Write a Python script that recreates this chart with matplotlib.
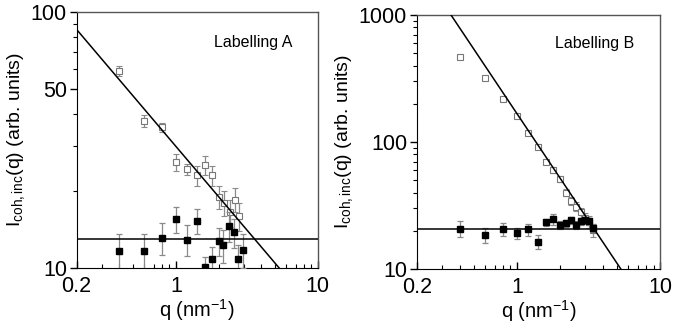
import numpy as np
import matplotlib
matplotlib.use("Agg")
import matplotlib.pyplot as plt
from matplotlib.ticker import FixedLocator, NullFormatter

plt.rcParams["font.family"] = ["Liberation Sans", "DejaVu Sans"]
plt.rcParams["mathtext.fontset"] = "custom"
plt.rcParams["mathtext.rm"] = "Liberation Sans"
plt.rcParams["mathtext.it"] = "Liberation Sans"

# ── Labelling A ─────────────────────────────────────────────────────────────
qa_open = [0.4, 0.6, 0.8, 1.0, 1.2, 1.4, 1.6, 1.8, 2.0, 2.2, 2.4, 2.6, 2.8]
Ia_open = [59, 37.5, 35.5, 26, 24.3, 23, 25.2, 23, 19, 18, 16.5, 18.5, 16]
ea_open = [2.5, 2.0, 1.5, 2.0, 1.2, 2.0, 2.2, 2.0, 2.0, 2.0, 2.0, 2.0, 2.0]
qa_fill = [0.4, 0.6, 0.8, 1.0, 1.2, 1.4, 1.6, 1.8, 2.0, 2.16, 2.37, 2.58, 2.76, 2.97]
Ia_fill = [11.6, 11.6, 13.1, 15.5, 12.9, 15.3, 10.05, 10.8, 12.7, 12.3, 14.6, 13.8, 10.8, 11.8]
ea_fill = [2.0, 2.0, 1.9, 1.8, 1.8, 1.7, 1.0, 1.3, 1.6, 1.8, 2.0, 1.8, 1.5, 1.8]
fit_a_q, fit_a_I = [0.2, 5.34], [85.5, 10]
flat_a = 13.0

# ── Labelling B ─────────────────────────────────────────────────────────────
qb_open = [0.4, 0.6, 0.8, 1.0, 1.2, 1.4, 1.6, 1.8, 2.0, 2.2, 2.4, 2.6, 2.8, 3.0, 3.2, 3.4]
Ib_open = [470, 321, 218, 160, 118, 92, 70, 60, 51, 40, 34.3, 31, 27.9, 25, 23.5, 20.3]
eb_open = [12, 10, 8, 6, 5, 4, 3, 3, 3, 2.5, 2.5, 2.5, 2.5, 2.5, 2.5, 2.5]
qb_fill = [0.4, 0.6, 0.8, 1.0, 1.2, 1.4, 1.6, 1.8, 2.0, 2.2, 2.4, 2.6, 2.8, 3.0, 3.2, 3.4]
Ib_fill = [20.8, 18.5, 20.6, 19.1, 20.5, 16.4, 23.3, 24.6, 22.2, 22.9, 24.3, 22.2, 23.7, 24.3, 23.7, 21.2]
eb_fill = [3.0, 2.6, 2.5, 2.0, 2.3, 2.0, 1.5, 2.3, 1.5, 1.5, 1.5, 1.5, 1.5, 1.5, 1.5, 1.5]
fit_b_q, fit_b_I = [0.347, 5.32], [1000, 10]
flat_b = 20.8

fig = plt.figure(figsize=(6.97, 3.28), dpi=100)
axA = fig.add_axes([0.110, 0.183, 0.346, 0.780])
axB = fig.add_axes([0.598, 0.180, 0.349, 0.774])

def panel(ax, qo, Io, eo, qf, If, ef, fq, fI, flat, ylim, yticks, label, ty):
    ax.set_xscale("log"); ax.set_yscale("log")
    ax.errorbar(qo, Io, yerr=eo, fmt="s", ms=4, mfc="white", mec="#777777", mew=0.8,
                ecolor="#8a8a8a", elinewidth=0.9, capsize=2.5, capthick=0.9, zorder=3)
    ax.errorbar(qf, If, yerr=ef, fmt="s", ms=5, mfc="black", mec="black",
                ecolor="#8a8a8a", elinewidth=0.9, capsize=2.5, capthick=0.9, zorder=4)
    ax.plot(fq, fI, color="black", lw=1.1, zorder=5)
    ax.axhline(flat, color="black", lw=1.1, zorder=5)
    ax.set_xlim(0.2, 10); ax.set_ylim(*ylim)
    ax.xaxis.set_major_locator(FixedLocator([0.2, 1, 10]))
    ax.set_xticklabels(["0.2", "1", "10"])
    ax.yaxis.set_major_locator(FixedLocator(yticks))
    ax.set_yticklabels([str(v) for v in yticks])
    ax.xaxis.set_minor_locator(FixedLocator([0.3, 0.4, 0.5, 0.6, 0.7, 0.8, 0.9, 2, 3, 4, 5, 6, 7, 8, 9]))
    ax.xaxis.set_minor_formatter(NullFormatter())
    ax.yaxis.set_minor_formatter(NullFormatter())
    ax.tick_params(axis="x", which="both", direction="in", top=False, labelsize=15.5, pad=6)
    ax.tick_params(axis="y", which="both", direction="out", right=False, labelsize=15.5, pad=2)
    ax.tick_params(which="major", length=5, width=1)
    ax.tick_params(which="minor", length=3, width=0.8)
    for s in ["top", "right"]:
        ax.spines[s].set_color("#555555"); ax.spines[s].set_linewidth(1.0)
    ax.set_xlabel(r"q (nm$^{-1}$)", fontsize=14.5, labelpad=0)
    ax.set_ylabel(r"I$_{\mathregular{coh,inc}}$(q) (arb. units)", fontsize=14, labelpad=3)
    ax.text(0.73, ty, label, transform=ax.transAxes, ha="center", va="center", fontsize=11.5)

panel(axA, qa_open, Ia_open, ea_open, qa_fill, Ia_fill, ea_fill, fit_a_q, fit_a_I, flat_a,
      (10, 100), [10, 50, 100], "Labelling A", 0.88)
axA.yaxis.set_minor_locator(FixedLocator([20, 30, 40, 60, 70, 80, 90]))
panel(axB, qb_open, Ib_open, eb_open, qb_fill, Ib_fill, eb_fill, fit_b_q, fit_b_I, flat_b,
      (10, 1000), [10, 100, 1000], "Labelling B", 0.89)
axB.yaxis.set_minor_locator(FixedLocator([20, 30, 40, 50, 60, 70, 80, 90,
                                          200, 300, 400, 500, 600, 700, 800, 900]))

fig.savefig("out.png", dpi=100)
